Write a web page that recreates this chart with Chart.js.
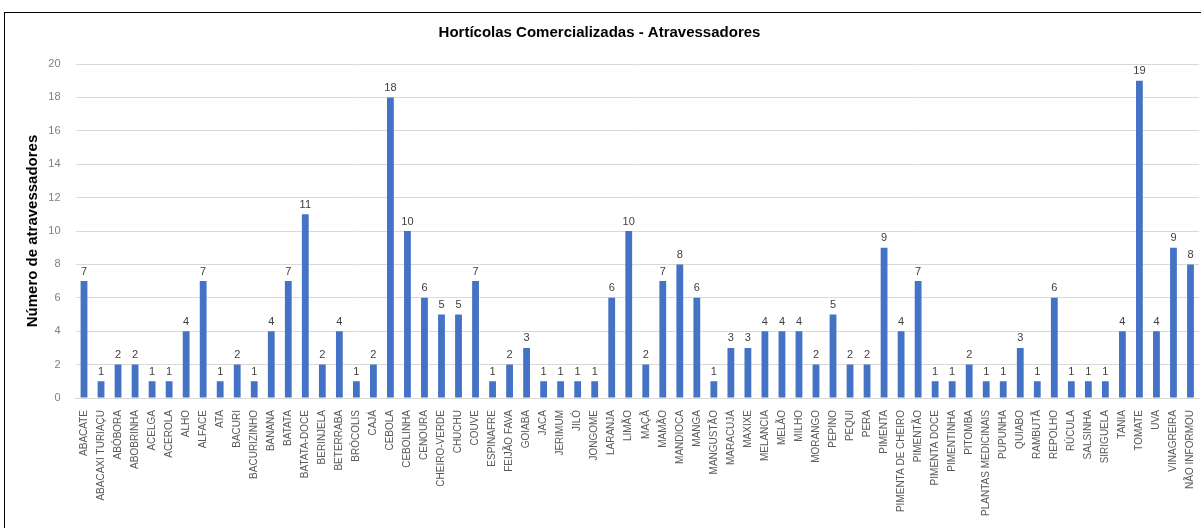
<!DOCTYPE html>
<html>
<head>
<meta charset="utf-8">
<script src="https://cdn.jsdelivr.net/npm/chart.js@4.4.1/dist/chart.umd.min.js"></script>
<style>
    html, body { margin: 0; padding: 0; background: #fff; overflow: hidden; }
    body { width: 1201px; height: 528px; position: relative; }
    .frame { position: absolute; left: 4px; top: 12px; width: 1300px; height: 700px;
             border-left: 1.5px solid #000; border-top: 1.5px solid #000; }
    .wrap { position: absolute; left: 0; top: 0; width: 1201px; height: 528px; }
</style>
</head>
<body>
<div class="frame"></div>
<div class="wrap"><canvas id="hortChart"></canvas></div>
<script>
// 데이터
const produtos = [
    'ABACATE', 'ABACAXI TURIAÇU', 'ABÓBORA', 'ABOBRINHA', 'ACELGA', 'ACEROLA', 'ALHO', 'ALFACE',
    'ATA', 'BACURI', 'BACURIZINHO', 'BANANA', 'BATATA', 'BATATA-DOCE', 'BERINJELA', 'BETERRABA',
    'BRÓCOLIS', 'CAJÁ', 'CEBOLA', 'CEBOLINHA', 'CENOURA', 'CHEIRO-VERDE', 'CHUCHU', 'COUVE',
    'ESPINAFRE', 'FEIJÃO FAVA', 'GOIABA', 'JACA', 'JERIMUM', 'JILÓ', 'JONGOME', 'LARANJA',
    'LIMÃO', 'MAÇÃ', 'MAMÃO', 'MANDIOCA', 'MANGA', 'MANGUSTÃO', 'MARACUJÁ', 'MAXIXE',
    'MELANCIA', 'MELÃO', 'MILHO', 'MORANGO', 'PEPINO', 'PEQUI', 'PERA', 'PIMENTA',
    'PIMENTA DE CHEIRO', 'PIMENTÃO', 'PIMENTA DOCE', 'PIMENTINHA', 'PITOMBA', 'PLANTAS MEDICINAIS',
    'PUPUNHA', 'QUIABO', 'RAMBUTÃ', 'REPOLHO', 'RÚCULA', 'SALSINHA', 'SIRIGUELA', 'TANIA',
    'TOMATE', 'UVA', 'VINAGREIRA', 'NÃO INFORMOU'
];
const atravessadores = [
    7, 1, 2, 2, 1, 1, 4, 7,
    1, 2, 1, 4, 7, 11, 2, 4,
    1, 2, 18, 10, 6, 5, 5, 7,
    1, 2, 3, 1, 1, 1, 1, 6,
    10, 2, 7, 8, 6, 1, 3, 3,
    4, 4, 4, 2, 5, 2, 2, 9,
    4, 7, 1, 1, 2, 1,
    1, 3, 1, 6, 1, 1, 1, 4,
    19, 4, 9, 8
];
const yTicks = [0, 2, 4, 6, 8, 10, 12, 14, 16, 18, 20];

const baseFont = "'Liberation Sans', Arial, sans-serif";

// 막대 위 값 표시
const valueLabels = {
    id: 'valueLabels',
    afterDatasetsDraw(chart) {
        const ctx = chart.ctx;
        const meta = chart.getDatasetMeta(0);
        ctx.save();
        ctx.font = "11px " + baseFont;
        ctx.fillStyle = '#404040';
        ctx.textAlign = 'center';
        ctx.textBaseline = 'bottom';
        meta.data.forEach((bar, i) => {
            ctx.fillText(String(atravessadores[i]), bar.x, bar.y - 4);
        });
        ctx.restore();
    }
};

const ctx = document.getElementById('hortChart').getContext('2d');
new Chart(ctx, {
    type: 'bar',
    data: {
        labels: produtos,
        datasets: [{
            data: atravessadores,
            backgroundColor: '#4472C4',
            barPercentage: 0.8,
            categoryPercentage: 0.5
        }]
    },
    options: {
        responsive: true,
        maintainAspectRatio: false,
        animation: false,
        layout: { padding: { left: 0, right: 2, top: 0, bottom: 0 } },
        plugins: {
            legend: { display: false },
            tooltip: { enabled: false },
            title: {
                display: true,
                text: 'Hortícolas Comercializadas - Atravessadores',
                color: '#000',
                font: { family: baseFont, size: 15, weight: 'bold', lineHeight: 1.2 },
                padding: { top: 24, bottom: 22 }
            }
        },
        scales: {
            x: {
                grid: { display: false },
                border: { display: true, color: '#d9d9d9', width: 1 },
                ticks: {
                    autoSkip: false,
                    minRotation: 90,
                    maxRotation: 90,
                    padding: 4,
                    color: '#595959',
                    font: { family: baseFont, size: 10 }
                },
                afterFit(scale) {
                    scale.height = 130;
                    scale.paddingLeft = 0;
                    scale.paddingRight = 0;
                }
            },
            y: {
                min: 0,
                max: 20,
                afterBuildTicks(scale) { scale.ticks = yTicks.map(v => ({ value: v })); },
                grid: { color: '#d9d9d9', drawTicks: false },
                border: { display: false },
                ticks: {
                    padding: 15,
                    color: '#7f7f7f',
                    font: { family: baseFont, size: 11 }
                },
                title: {
                    display: true,
                    text: 'Número de atravessadores',
                    color: '#000',
                    font: { family: baseFont, size: 15, weight: 'bold' },
                    padding: { top: 24, bottom: 4 }
                },
                afterFit(scale) { scale.width = 75.5; }
            }
        }
    },
    plugins: [valueLabels]
});
</script>
</body>
</html>
